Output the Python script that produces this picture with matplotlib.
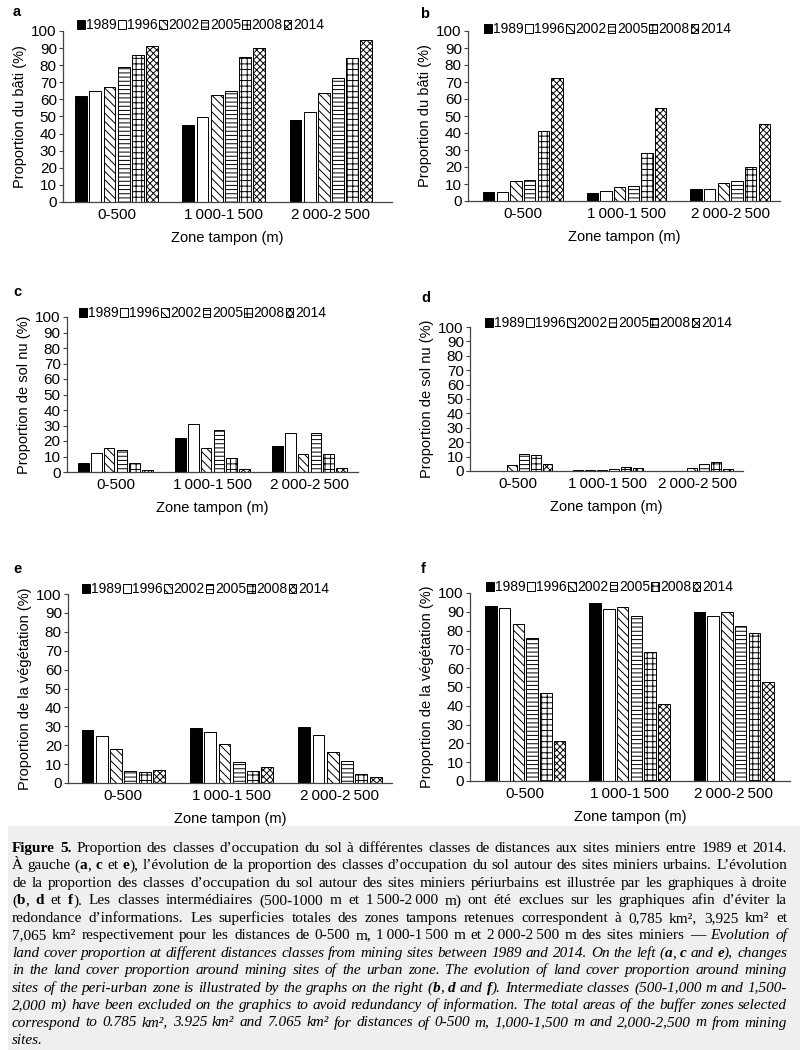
import matplotlib
matplotlib.use('Agg')
import matplotlib.pyplot as plt
from matplotlib.patches import Rectangle
import numpy as np

plt.rcParams['font.family'] = ['Liberation Sans', 'DejaVu Sans']
plt.rcParams['hatch.linewidth'] = 0.7
plt.rcParams['hatch.color'] = 'black'

W, H = 805, 1050

# --- données ---
zones = ['0-500', '1\u2009000-1\u2009500', '2\u2009000-2\u2009500']
years = ['1989', '1996', '2002', '2005', '2008', '2014']

bati_urbain = [[62, 65, 67, 79, 86, 91.5],
               [45, 49.5, 62.5, 65, 85, 90],
               [48, 52.5, 63.5, 72.5, 84, 95]]
bati_periurbain = [[5.5, 5.5, 12, 12.5, 41, 72.5],
                   [4.5, 6, 8, 9, 28, 55],
                   [7, 7, 10.5, 12, 20, 45.5]]
solnu_urbain = [[5.5, 12, 15.5, 14, 5.5, 1],
                [22, 31, 15.5, 27, 9, 2],
                [16.5, 25, 11.5, 25, 11.5, 2.5]]
solnu_periurbain = [[0, 0.3, 4.5, 12, 11, 5],
                    [1, 1, 1, 1.5, 3, 2],
                    [0.3, 0.3, 2, 5, 6, 1.5]]
veg_urbain = [[28, 25, 18, 6.5, 6, 7],
              [29, 27, 20.5, 11, 6.5, 8.5],
              [29.5, 25.5, 16.5, 11.5, 5, 3]]
veg_periurbain = [[93, 92, 83.5, 76, 47, 21.5],
                  [94.5, 91.5, 92.5, 88, 68.5, 41],
                  [90, 88, 90, 82.5, 78.5, 52.5]]

colors = ['black', 'white', 'white', 'white', 'white', 'white']
hatches = [None, None, '\\\\\\\\', '----', '+++', 'xxxxx']

# panneaux: (lettre, données, ylabel, boîte axes en px [gauche, haut, droite, bas], xlim, lettre xy, légende xy)
panels = [
    ('a', bati_urbain, 'Proportion du bâti (%)', (63, 31, 392, 202), (-0.5, 2.57), (13, 12), (77, 25)),
    ('b', bati_periurbain, 'Proportion du bâti (%)', (468, 31, 780, 201), (-0.53, 2.48), (420, 14), (484, 29)),
    ('c', solnu_urbain, 'Proportion de sol nu (%)', (67, 317, 358, 472), (-0.5, 2.5), (13, 292), (79, 313)),
    ('d', solnu_periurbain, 'Proportion de sol nu (%)', (470, 327, 743, 471), (-0.53, 2.5), (421, 298), (485, 323)),
    ('e', veg_urbain, 'Proportion de la végétation (%)', (68, 594, 392, 783), (-0.51, 2.48), (13, 569), (82, 589)),
    ('f', veg_periurbain, 'Proportion de la végétation (%)', (470, 593, 790, 781), (-0.53, 2.54), (421, 569), (486, 587)),
]

fig = plt.figure(figsize=(W / 100, H / 100), dpi=100)

width, pitch = 0.11, 0.132
for letter, data, ylab, (l, t, r, b), xl, (lx, ly), (gx, gy) in panels:
    ax = fig.add_axes([l / W, 1 - b / H, (r - l) / W, (b - t) / H])
    data = np.array(data)
    x = np.arange(len(zones))
    for j, yr in enumerate(years):
        ax.bar(x + (j - 2.5) * pitch, data[:, j], width, color=colors[j],
               hatch=hatches[j], edgecolor='black', linewidth=0.7, label=yr)
    ax.set_xlim(*xl)
    ax.set_ylim(0, 100)
    ax.set_yticks(range(0, 101, 10))
    ax.set_xticks(x)
    ax.set_xticklabels(zones, fontsize=11)
    ax.tick_params(axis='x', length=0, pad=4)
    ax.tick_params(axis='y', length=3, width=0.8, pad=1.5, labelsize=11, color='#444')
    for s in ['top', 'right']:
        ax.spines[s].set_visible(False)
    for s in ['left', 'bottom']:
        ax.spines[s].set_color('#444')
        ax.spines[s].set_linewidth(0.9)
    ax.set_xlabel('Zone tampon (m)', fontsize=10.5, labelpad=7)
    ax.set_ylabel(ylab, fontsize=10.5, labelpad=3)
    fig.text(lx / W, 1 - ly / H, letter, fontsize=10.5, fontweight='bold', va='center')
    ax.legend(loc='center left', bbox_to_anchor=(gx / W, 1 - gy / H), bbox_transform=fig.transFigure,
              ncol=6, frameon=False, fontsize=10, handlelength=0.55, handleheight=0.6,
              handletextpad=0.1, columnspacing=0.1, borderpad=0, borderaxespad=0)

# --- légende de la figure (texte justifié) ---
fig.patches.append(Rectangle((8 / W, 0), 792 / W, 1 - 826 / H, transform=fig.transFigure,
                             facecolor='#efefef', edgecolor='none', zorder=-1))

ts = '\u2009'
caption = [
    '§bFigure 5.§b Proportion des classes d’occupation du sol à différentes classes de distances aux sites miniers entre 1989 et 2014.',
    'À gauche (§ba§b, §bc§b et §be§b), l’évolution de la proportion des classes d’occupation du sol autour des sites miniers urbains. L’évolution',
    'de la proportion des classes d’occupation du sol autour des sites miniers périurbains est illustrée par les graphiques à droite',
    f'(§bb§b, §bd§b et §bf§b). Les classes intermédiaires (500-1000 m et 1{ts}500-2{ts}000 m) ont été exclues sur les graphiques afin d’éviter la',
    'redondance d’informations. Les superficies totales des zones tampons retenues correspondent à 0,785 km², 3,925 km² et',
    f'7,065 km² respectivement pour les distances de 0-500 m, 1{ts}000-1{ts}500 m et 2{ts}000-2{ts}500 m des sites miniers — §iEvolution of',
    '§iland cover proportion at different distances classes from mining sites between 1989 and 2014. On the left (§ba§b, §bc§b and §be§b), changes',
    '§iin the land cover proportion around mining sites of the urban zone. The evolution of land cover proportion around mining',
    '§isites of the peri-urban zone is illustrated by the graphs on the right (§bb§b, §bd§b and §bf§b). Intermediate classes (500-1,000 m and 1,500-',
    '§i2,000 m) have been excluded on the graphics to avoid redundancy of information. The total areas of the buffer zones selected',
    '§icorrespond to 0.785 km², 3.925 km² and 7.065 km² for distances of 0-500 m, 1,000-1,500 m and 2,000-2,500 m from mining',
    '§isites.',
]

renderer = fig.canvas.get_renderer()
cfont = ['Liberation Serif', 'DejaVu Serif']
csize = 11


def put(x, y, s, bold, ital):
    t = fig.text(x / W, 1 - y / H, s, fontsize=csize, family=cfont, va='baseline',
                 fontweight='bold' if bold else 'normal', fontstyle='italic' if ital else 'normal')
    return t, t.get_window_extent(renderer).width


x0, x1 = 12, 787
for i, line in enumerate(caption):
    y = 852 + 17.45 * i
    # découpe en mots, chaque mot en morceaux (texte, gras, italique)
    bold = False
    ital = False
    words = [[]]
    parts = line.split('§')
    for k, p in enumerate(parts):
        if k > 0:
            if p[0] == 'b':
                bold = not bold
            elif p[0] == 'i':
                ital = not ital
            p = p[1:]
        sub = p.split(' ')
        for m, w in enumerate(sub):
            if m > 0:
                words.append([])
            if w:
                words[-1].append((w, bold, ital))
    words = [w for w in words if w]
    # mesure
    placed = []
    total = 0
    for w in words:
        chunks = []
        for s, bb, ii in w:
            t, wd = put(0, y, s, bb, ii)
            chunks.append((t, wd))
            total += wd
        placed.append(chunks)
    if i < len(caption) - 1:
        gap = (x1 - x0 - total) / (len(words) - 1)
    else:
        gap = 3.5
    x = x0
    for chunks in placed:
        for t, wd in chunks:
            t.set_x(x / W)
            x += wd
        x += gap

fig.savefig('out.png', dpi=100)
